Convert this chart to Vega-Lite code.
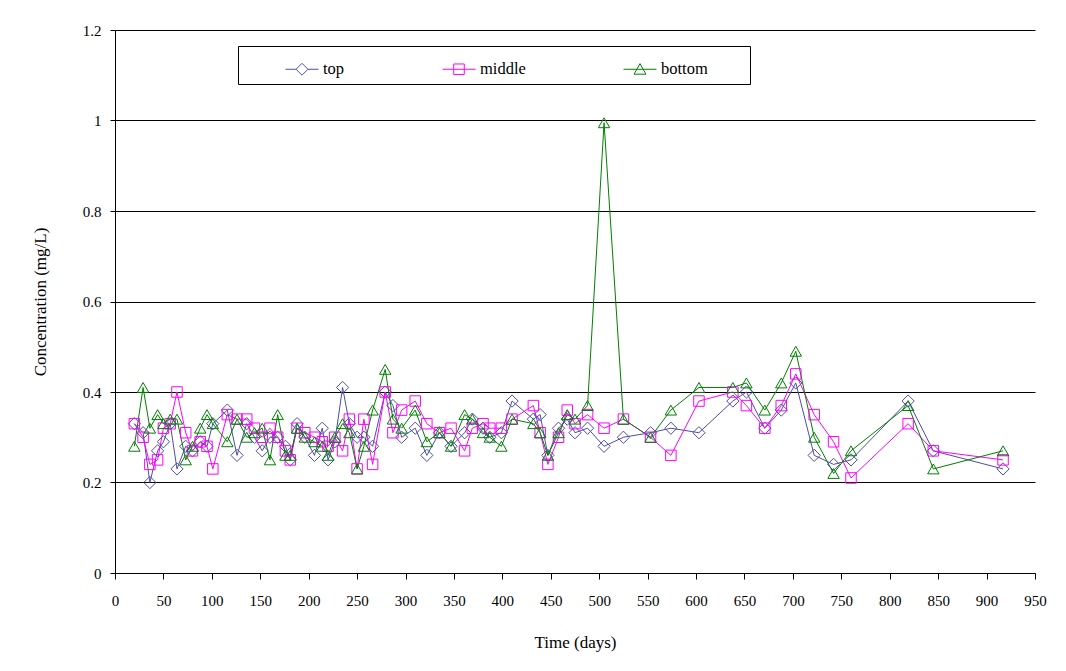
{
  "$schema": "https://vega.github.io/schema/vega-lite/v6.json",
  "width": 920,
  "height": 543,
  "autosize": {"type": "none"},
  "padding": {"left": 115, "top": 30, "right": 31, "bottom": 98},
  "background": "white",
  "config": {
    "font": "Liberation Serif",
    "view": {"stroke": null},
    "style": {
      "guide-label": {"font": "Liberation Serif", "fill": "black"},
      "guide-title": {"font": "Liberation Serif", "fill": "black"}
    },
    "axis": {
      "domainColor": "black",
      "tickColor": "black",
      "labelColor": "black",
      "titleColor": "black",
      "labelFontSize": 15,
      "titleFontSize": 17,
      "titleFontWeight": "normal",
      "labelFont": "Liberation Serif",
      "titleFont": "Liberation Serif"
    },
    "legend": {"labelFont": "Liberation Serif", "labelColor": "black", "titleFont": "Liberation Serif"}
  },
  "data": {
    "values": [
      {"day": 20, "series": "top", "conc": 0.33}, {"day": 20, "series": "middle", "conc": 0.33}, {"day": 20, "series": "bottom", "conc": 0.28},
      {"day": 29, "series": "top", "conc": 0.31}, {"day": 29, "series": "middle", "conc": 0.30}, {"day": 29, "series": "bottom", "conc": 0.41},
      {"day": 36, "series": "top", "conc": 0.20}, {"day": 36, "series": "middle", "conc": 0.24}, {"day": 36, "series": "bottom", "conc": 0.32},
      {"day": 44, "series": "top", "conc": 0.27}, {"day": 44, "series": "middle", "conc": 0.25}, {"day": 44, "series": "bottom", "conc": 0.35},
      {"day": 50, "series": "top", "conc": 0.29}, {"day": 50, "series": "middle", "conc": 0.32}, {"day": 50, "series": "bottom", "conc": 0.33},
      {"day": 57, "series": "top", "conc": 0.33}, {"day": 57, "series": "middle", "conc": 0.33}, {"day": 57, "series": "bottom", "conc": 0.34},
      {"day": 64, "series": "top", "conc": 0.23}, {"day": 64, "series": "middle", "conc": 0.40}, {"day": 64, "series": "bottom", "conc": 0.34},
      {"day": 73, "series": "top", "conc": 0.28}, {"day": 73, "series": "middle", "conc": 0.31}, {"day": 73, "series": "bottom", "conc": 0.25},
      {"day": 80, "series": "top", "conc": 0.27}, {"day": 80, "series": "middle", "conc": 0.27}, {"day": 80, "series": "bottom", "conc": 0.28},
      {"day": 88, "series": "top", "conc": 0.29}, {"day": 88, "series": "middle", "conc": 0.29}, {"day": 88, "series": "bottom", "conc": 0.32},
      {"day": 95, "series": "top", "conc": 0.28}, {"day": 95, "series": "middle", "conc": 0.28}, {"day": 95, "series": "bottom", "conc": 0.35},
      {"day": 101, "series": "top", "conc": 0.33}, {"day": 101, "series": "middle", "conc": 0.23}, {"day": 101, "series": "bottom", "conc": 0.33},
      {"day": 116, "series": "top", "conc": 0.36}, {"day": 116, "series": "middle", "conc": 0.35}, {"day": 116, "series": "bottom", "conc": 0.29},
      {"day": 126, "series": "top", "conc": 0.26}, {"day": 126, "series": "middle", "conc": 0.34}, {"day": 126, "series": "bottom", "conc": 0.34},
      {"day": 136, "series": "top", "conc": 0.33}, {"day": 136, "series": "middle", "conc": 0.34}, {"day": 136, "series": "bottom", "conc": 0.30},
      {"day": 144, "series": "top", "conc": 0.30}, {"day": 144, "series": "middle", "conc": 0.32}, {"day": 144, "series": "bottom", "conc": 0.31},
      {"day": 152, "series": "top", "conc": 0.27}, {"day": 152, "series": "middle", "conc": 0.30}, {"day": 152, "series": "bottom", "conc": 0.32},
      {"day": 160, "series": "top", "conc": 0.30}, {"day": 160, "series": "middle", "conc": 0.32}, {"day": 160, "series": "bottom", "conc": 0.25},
      {"day": 168, "series": "top", "conc": 0.30}, {"day": 168, "series": "middle", "conc": 0.30}, {"day": 168, "series": "bottom", "conc": 0.35},
      {"day": 176, "series": "top", "conc": 0.28}, {"day": 176, "series": "middle", "conc": 0.27}, {"day": 176, "series": "bottom", "conc": 0.26},
      {"day": 181, "series": "top", "conc": 0.25}, {"day": 181, "series": "middle", "conc": 0.25}, {"day": 181, "series": "bottom", "conc": 0.26},
      {"day": 188, "series": "top", "conc": 0.33}, {"day": 188, "series": "middle", "conc": 0.32}, {"day": 188, "series": "bottom", "conc": 0.32},
      {"day": 196, "series": "top", "conc": 0.30}, {"day": 196, "series": "middle", "conc": 0.31}, {"day": 196, "series": "bottom", "conc": 0.30},
      {"day": 206, "series": "top", "conc": 0.26}, {"day": 206, "series": "middle", "conc": 0.30}, {"day": 206, "series": "bottom", "conc": 0.29},
      {"day": 214, "series": "top", "conc": 0.32}, {"day": 214, "series": "middle", "conc": 0.29}, {"day": 214, "series": "bottom", "conc": 0.28},
      {"day": 220, "series": "top", "conc": 0.25}, {"day": 220, "series": "middle", "conc": 0.28}, {"day": 220, "series": "bottom", "conc": 0.26},
      {"day": 227, "series": "top", "conc": 0.29}, {"day": 227, "series": "middle", "conc": 0.30}, {"day": 227, "series": "bottom", "conc": 0.30},
      {"day": 235, "series": "top", "conc": 0.41}, {"day": 235, "series": "middle", "conc": 0.27}, {"day": 235, "series": "bottom", "conc": 0.33},
      {"day": 242, "series": "top", "conc": 0.33}, {"day": 242, "series": "middle", "conc": 0.34}, {"day": 242, "series": "bottom", "conc": 0.31},
      {"day": 250, "series": "top", "conc": 0.30}, {"day": 250, "series": "middle", "conc": 0.23}, {"day": 250, "series": "bottom", "conc": 0.23},
      {"day": 257, "series": "top", "conc": 0.30}, {"day": 257, "series": "middle", "conc": 0.34}, {"day": 257, "series": "bottom", "conc": 0.28},
      {"day": 266, "series": "top", "conc": 0.28}, {"day": 266, "series": "middle", "conc": 0.24}, {"day": 266, "series": "bottom", "conc": 0.36},
      {"day": 279, "series": "top", "conc": 0.40}, {"day": 279, "series": "middle", "conc": 0.40}, {"day": 279, "series": "bottom", "conc": 0.45},
      {"day": 287, "series": "top", "conc": 0.37}, {"day": 287, "series": "middle", "conc": 0.31}, {"day": 287, "series": "bottom", "conc": 0.34},
      {"day": 296, "series": "top", "conc": 0.30}, {"day": 296, "series": "middle", "conc": 0.36}, {"day": 296, "series": "bottom", "conc": 0.32},
      {"day": 310, "series": "top", "conc": 0.32}, {"day": 310, "series": "middle", "conc": 0.38}, {"day": 310, "series": "bottom", "conc": 0.36},
      {"day": 322, "series": "top", "conc": 0.26}, {"day": 322, "series": "middle", "conc": 0.33}, {"day": 322, "series": "bottom", "conc": 0.29},
      {"day": 335, "series": "top", "conc": 0.31}, {"day": 335, "series": "middle", "conc": 0.31}, {"day": 335, "series": "bottom", "conc": 0.31},
      {"day": 347, "series": "top", "conc": 0.28}, {"day": 347, "series": "middle", "conc": 0.32}, {"day": 347, "series": "bottom", "conc": 0.28},
      {"day": 361, "series": "top", "conc": 0.31}, {"day": 361, "series": "middle", "conc": 0.27}, {"day": 361, "series": "bottom", "conc": 0.35},
      {"day": 369, "series": "top", "conc": 0.34}, {"day": 369, "series": "middle", "conc": 0.32}, {"day": 369, "series": "bottom", "conc": 0.34},
      {"day": 380, "series": "top", "conc": 0.32}, {"day": 380, "series": "middle", "conc": 0.33}, {"day": 380, "series": "bottom", "conc": 0.31},
      {"day": 387, "series": "top", "conc": 0.30}, {"day": 387, "series": "middle", "conc": 0.32}, {"day": 387, "series": "bottom", "conc": 0.30},
      {"day": 399, "series": "top", "conc": 0.31}, {"day": 399, "series": "middle", "conc": 0.32}, {"day": 399, "series": "bottom", "conc": 0.28},
      {"day": 410, "series": "top", "conc": 0.38}, {"day": 410, "series": "middle", "conc": 0.34}, {"day": 410, "series": "bottom", "conc": 0.34},
      {"day": 432, "series": "top", "conc": 0.34}, {"day": 432, "series": "middle", "conc": 0.37}, {"day": 432, "series": "bottom", "conc": 0.33},
      {"day": 439, "series": "top", "conc": 0.35}, {"day": 439, "series": "middle", "conc": 0.31}, {"day": 439, "series": "bottom", "conc": 0.31},
      {"day": 447, "series": "top", "conc": 0.26}, {"day": 447, "series": "middle", "conc": 0.24}, {"day": 447, "series": "bottom", "conc": 0.26},
      {"day": 458, "series": "top", "conc": 0.32}, {"day": 458, "series": "middle", "conc": 0.30}, {"day": 458, "series": "bottom", "conc": 0.31},
      {"day": 467, "series": "top", "conc": 0.34}, {"day": 467, "series": "middle", "conc": 0.36}, {"day": 467, "series": "bottom", "conc": 0.35},
      {"day": 475, "series": "top", "conc": 0.31}, {"day": 475, "series": "middle", "conc": 0.33}, {"day": 475, "series": "bottom", "conc": 0.34},
      {"day": 488, "series": "top", "conc": 0.32}, {"day": 488, "series": "middle", "conc": 0.35}, {"day": 488, "series": "bottom", "conc": 0.37},
      {"day": 505, "series": "top", "conc": 0.28}, {"day": 505, "series": "middle", "conc": 0.32}, {"day": 505, "series": "bottom", "conc": 0.995},
      {"day": 525, "series": "top", "conc": 0.30}, {"day": 525, "series": "middle", "conc": 0.34}, {"day": 525, "series": "bottom", "conc": 0.34},
      {"day": 553, "series": "top", "conc": 0.31}, {"day": 553, "series": "middle", "conc": 0.30}, {"day": 553, "series": "bottom", "conc": 0.30},
      {"day": 574, "series": "top", "conc": 0.32}, {"day": 574, "series": "middle", "conc": 0.26}, {"day": 574, "series": "bottom", "conc": 0.36},
      {"day": 603, "series": "top", "conc": 0.31}, {"day": 603, "series": "middle", "conc": 0.38}, {"day": 603, "series": "bottom", "conc": 0.41},
      {"day": 638, "series": "top", "conc": 0.38}, {"day": 638, "series": "middle", "conc": 0.40}, {"day": 638, "series": "bottom", "conc": 0.41},
      {"day": 652, "series": "top", "conc": 0.40}, {"day": 652, "series": "middle", "conc": 0.37}, {"day": 652, "series": "bottom", "conc": 0.42},
      {"day": 671, "series": "top", "conc": 0.32}, {"day": 671, "series": "middle", "conc": 0.32}, {"day": 671, "series": "bottom", "conc": 0.36},
      {"day": 688, "series": "top", "conc": 0.36}, {"day": 688, "series": "middle", "conc": 0.37}, {"day": 688, "series": "bottom", "conc": 0.42},
      {"day": 703, "series": "top", "conc": 0.42}, {"day": 703, "series": "middle", "conc": 0.44}, {"day": 703, "series": "bottom", "conc": 0.49},
      {"day": 722, "series": "top", "conc": 0.26}, {"day": 722, "series": "middle", "conc": 0.35}, {"day": 722, "series": "bottom", "conc": 0.30},
      {"day": 742, "series": "top", "conc": 0.24}, {"day": 742, "series": "middle", "conc": 0.29}, {"day": 742, "series": "bottom", "conc": 0.22},
      {"day": 760, "series": "top", "conc": 0.25}, {"day": 760, "series": "middle", "conc": 0.21}, {"day": 760, "series": "bottom", "conc": 0.27},
      {"day": 819, "series": "top", "conc": 0.38}, {"day": 819, "series": "middle", "conc": 0.33}, {"day": 819, "series": "bottom", "conc": 0.37},
      {"day": 845, "series": "top", "conc": 0.27}, {"day": 845, "series": "middle", "conc": 0.27}, {"day": 845, "series": "bottom", "conc": 0.23},
      {"day": 917, "series": "top", "conc": 0.23}, {"day": 917, "series": "middle", "conc": 0.25}, {"day": 917, "series": "bottom", "conc": 0.27}
    ]
  },
  "encoding": {
    "x": {
      "field": "day",
      "type": "quantitative",
      "scale": {"domain": [0, 950], "nice": false, "zero": false},
      "axis": {
        "title": "Time (days)",
        "values": [0, 50, 100, 150, 200, 250, 300, 350, 400, 450, 500, 550, 600, 650, 700, 750, 800, 850, 900, 950],
        "grid": false,
        "tickSize": 6,
        "labelPadding": 14,
        "titlePadding": 26,
        "labelFlush": false,
        "labelOverlap": false
      }
    },
    "y": {
      "field": "conc",
      "type": "quantitative",
      "scale": {"domain": [0, 1.2], "nice": false},
      "axis": {
        "title": "Concentration (mg/L)",
        "values": [0, 0.2, 0.4, 0.6, 0.8, 1, 1.2],
        "labelExpr": "datum.value + ''",
        "grid": true,
        "gridColor": "black",
        "gridOpacity": 1,
        "gridWidth": 1,
        "tickSize": 5,
        "labelPadding": 9,
        "titlePadding": 33,
        "labelFlush": false,
        "labelOverlap": false
      }
    }
  },
  "layer": [
    {
      "mark": {"type": "line", "strokeWidth": 1},
      "encoding": {
        "color": {
          "field": "series",
          "type": "nominal",
          "scale": {"domain": ["top", "middle", "bottom"], "range": ["#4d4da6", "#ff00ff", "#008000"]}
        }
      }
    },
    {
      "transform": [{"filter": "datum.series == 'top'"}],
      "mark": {"type": "point", "shape": "diamond", "size": 150, "color": "#4d4da6", "filled": false, "opacity": 1, "strokeWidth": 1}
    },
    {
      "transform": [{"filter": "datum.series == 'middle'"}],
      "mark": {"type": "point", "shape": "square", "size": 110, "color": "#ff00ff", "filled": false, "opacity": 1, "strokeWidth": 1}
    },
    {
      "transform": [{"filter": "datum.series == 'bottom'"}],
      "mark": {"type": "point", "shape": "triangle-up", "size": 130, "color": "#008000", "filled": false, "opacity": 1, "strokeWidth": 1}
    },
    {
      "mark": {"type": "point", "filled": false, "opacity": 1, "strokeWidth": 1, "size": 0},
      "encoding": {
        "color": {
          "field": "series",
          "type": "nominal",
          "legend": {
            "orient": "none",
            "legendX": 123,
            "legendY": 16,
            "direction": "horizontal",
            "title": " ",
            "titleOrient": "left",
            "titlePadding": 41,
            "symbolSize": 1089,
            "symbolStrokeWidth": 1,
            "symbolOpacity": 1,
            "labelFont": "Liberation Serif",
            "labelFontSize": 16.5,
            "labelOffset": 4,
            "columnPadding": 95,
            "padding": 6,
            "strokeColor": "black",
            "fillColor": "white",
            "labelExpr": "datum.label == 'bottom' ? 'bottom\u2800\u2800\u2800' : datum.label"
          }
        },
        "shape": {
          "field": "series",
          "type": "nominal",
          "scale": {
            "domain": ["top", "middle", "bottom"],
            "range": [
              "M-1,0L-0.36,0M0,-0.36L0.36,0L0,0.36L-0.36,0ZM0.36,0L1,0",
              "M-1,0L1,0M-0.32,-0.32L0.32,-0.32L0.32,0.32L-0.32,0.32Z",
              "M-1,0L1,0M0,-0.34L0.36,0.3L-0.36,0.3Z"
            ]
          },
          "legend": {
            "orient": "none",
            "legendX": 123,
            "legendY": 16,
            "direction": "horizontal",
            "title": " ",
            "titleOrient": "left",
            "titlePadding": 41,
            "symbolSize": 1089,
            "symbolStrokeWidth": 1,
            "symbolOpacity": 1,
            "labelFont": "Liberation Serif",
            "labelFontSize": 16.5,
            "labelOffset": 4,
            "columnPadding": 95,
            "padding": 6,
            "strokeColor": "black",
            "fillColor": "white",
            "labelExpr": "datum.label == 'bottom' ? 'bottom\u2800\u2800\u2800' : datum.label"
          }
        }
      }
    }
  ]
}
